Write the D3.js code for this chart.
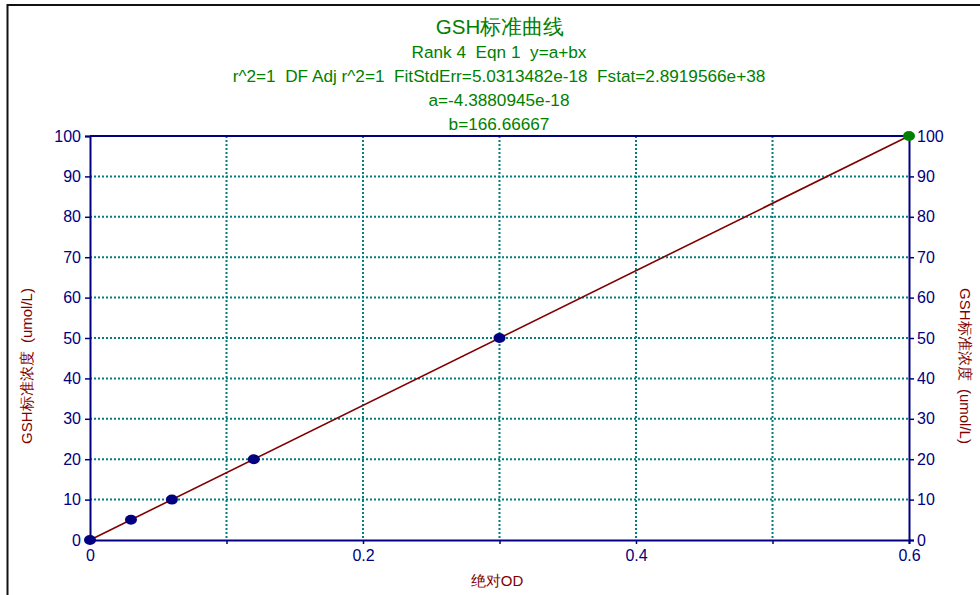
<!DOCTYPE html>
<html>
<head>
<meta charset="utf-8">
<script src="https://cdn.jsdelivr.net/npm/d3@7"></script>
<style>
body { margin: 0; background: #fff; }
svg text { font-family: "Liberation Sans", Arial, sans-serif; white-space: pre; }
</style>
</head>
<body>
<div id="chart"></div>
<script>
var width = 980, height = 595

// data
var odValues = [0, 0.03, 0.06, 0.12, 0.3, 0.6]
var concValues = [0, 5, 10, 20, 50, 100]
var fitA = -4.3880945e-18, fitB = 166.66667
var xTicks = [0, 0.1, 0.2, 0.3, 0.4, 0.5, 0.6]
var xLabels = [0, 0.2, 0.4, 0.6]
var yTicks = [0, 10, 20, 30, 40, 50, 60, 70, 80, 90, 100]
var titleLines = ["Rank 4  Eqn 1  y=a+bx",
  "r^2=1  DF Adj r^2=1  FitStdErr=5.0313482e-18  Fstat=2.8919566e+38",
  "a=-4.3880945e-18",
  "b=166.66667"]

var navy = "#000080", green = "#008000", red = "#800000", teal = "#008080"

var svg = d3.select("#chart").append("svg")
    .attr("width", width)
    .attr("height", height)

// outer frame (top + left only visible)
svg.append("path")
    .attr("d", "M7.5,600 V5 H985")
    .attr("fill", "none")
    .attr("stroke", "#111")
    .attr("stroke-width", 2)

var x = d3.scaleLinear().domain([0, 0.6]).range([90, 909])
var y = d3.scaleLinear().domain([0, 100]).range([540, 136])

// grid
svg.append("g").selectAll("line")
    .data(xTicks.filter(function(d) { return d > 0 && d < 0.6 }))
    .enter().append("line")
    .attr("x1", function(d) { return x(d) }).attr("x2", function(d) { return x(d) })
    .attr("y1", y(100)).attr("y2", y(0))
    .attr("stroke", teal).attr("stroke-width", 2).attr("stroke-dasharray", "2,2")
svg.append("g").selectAll("line")
    .data(yTicks.filter(function(d) { return d > 0 && d < 100 }))
    .enter().append("line")
    .attr("y1", function(d) { return y(d) }).attr("y2", function(d) { return y(d) })
    .attr("x1", x(0)).attr("x2", x(0.6))
    .attr("stroke", teal).attr("stroke-width", 2).attr("stroke-dasharray", "2,2")

// axes
var axisLeft = d3.axisLeft(y).tickValues(yTicks).tickSize(5).tickPadding(4)
var axisRight = d3.axisRight(y).tickValues(yTicks).tickSize(5).tickPadding(3)
var axisBottom = d3.axisBottom(x).tickValues(xTicks).tickSize(4).tickPadding(6)
    .tickFormat(function(d) { return xLabels.indexOf(d) >= 0 ? d3.format("")(d) : "" })

function styleAxis(g) {
  g.select(".domain").attr("stroke", navy).attr("stroke-width", 2)
  g.selectAll(".tick line").attr("stroke", navy).attr("stroke-width", 1.5)
  g.selectAll(".tick text").attr("fill", navy).style("font-size", "16px")
    .style("font-family", "'Liberation Sans', Arial, sans-serif")
}

svg.append("g").attr("transform", "translate(" + x(0) + ",0)").call(axisLeft).call(styleAxis)
svg.append("g").attr("transform", "translate(" + x(0.6) + ",0)").call(axisRight).call(styleAxis)
svg.append("g").attr("transform", "translate(0," + y(0) + ")").call(axisBottom).call(styleAxis)
svg.append("line")
    .attr("x1", x(0)).attr("x2", x(0.6)).attr("y1", y(100)).attr("y2", y(100))
    .attr("stroke", navy).attr("stroke-width", 2)

// fit line
var line = d3.line()
    .x(function(d) { return x(d) })
    .y(function(d) { return y(fitA + fitB * d) })
svg.append("path")
    .datum([0, 0.6])
    .attr("d", line)
    .attr("fill", "none")
    .attr("stroke", red)
    .attr("stroke-width", 1.6)

// points
svg.append("g").selectAll("ellipse")
    .data(odValues)
    .enter().append("ellipse")
    .attr("cx", function(d) { return x(d) })
    .attr("cy", function(d, i) { return y(concValues[i]) })
    .attr("rx", 6).attr("ry", 5)
    .attr("fill", function(d, i) { return i == odValues.length - 1 ? green : navy })

// titles
svg.append("text")
    .attr("x", 500).attr("y", 34)
    .attr("text-anchor", "middle")
    .attr("fill", green)
    .style("font-size", "20.5px")
    .text("GSH标准曲线")
svg.append("g").selectAll("text")
    .data(titleLines)
    .enter().append("text")
    .attr("x", 499)
    .attr("y", function(d, i) { return 58 + i * 24 })
    .attr("text-anchor", "middle")
    .attr("fill", green)
    .style("font-size", "17.2px")
    .text(function(d) { return d })

// axis titles
svg.append("text")
    .attr("transform", "translate(32,366) rotate(-90)")
    .attr("text-anchor", "middle")
    .attr("fill", red)
    .style("font-size", "15px")
    .text("GSH标准浓度  (umol/L)")
svg.append("text")
    .attr("transform", "translate(960,366) rotate(90)")
    .attr("text-anchor", "middle")
    .attr("fill", red)
    .style("font-size", "15px")
    .text("GSH标准浓度  (umol/L)")
svg.append("text")
    .attr("x", 497).attr("y", 586)
    .attr("text-anchor", "middle")
    .attr("fill", red)
    .style("font-size", "15px")
    .text("绝对OD")
</script>
</body>
</html>
